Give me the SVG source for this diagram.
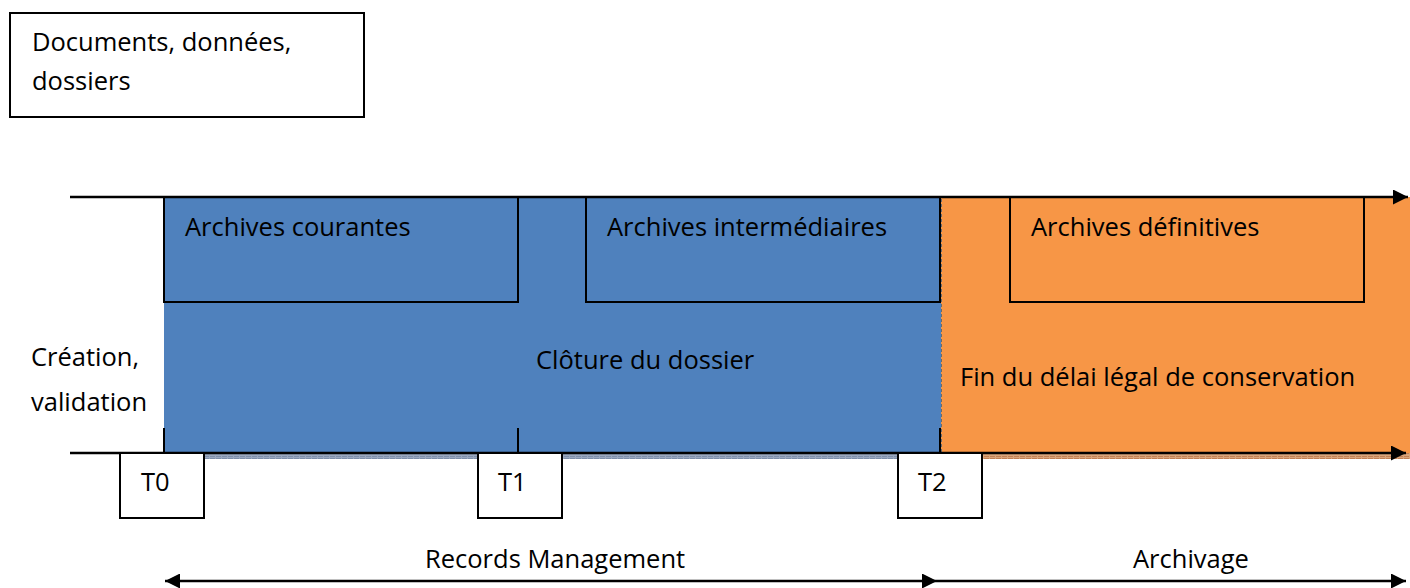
<svg xmlns="http://www.w3.org/2000/svg" width="1410" height="588" viewBox="0 0 1410 588">
  <style>
    .t { font-family: "Open Sans", "Liberation Sans", sans-serif; font-size: 25.5px; fill: #000; }
    .box { fill: none; stroke: #000; stroke-width: 2; }
    .wbox { fill: #fff; stroke: #000; stroke-width: 2; }
    .ln { stroke: #000; stroke-width: 2.5; fill: none; }
    .tick { stroke: #000; stroke-width: 2; }
  </style>
  <defs>
    <marker id="ah" viewBox="0 0 10 10" refX="10" refY="5" markerWidth="15" markerHeight="15" markerUnits="userSpaceOnUse" orient="auto-start-reverse">
      <path d="M0,0 L10,5 L0,10 Z" fill="#000"/>
    </marker>
    <pattern id="hatchBlue" width="6" height="5" patternUnits="userSpaceOnUse">
      <rect width="6" height="5" fill="#9aa8bf"/>
      <rect x="0" y="1" width="5" height="1" fill="#7e8faa"/>
      <rect x="0" y="3" width="5" height="1" fill="#7e8faa"/>
    </pattern>
    <pattern id="hatchOrange" width="6" height="5" patternUnits="userSpaceOnUse">
      <rect width="6" height="5" fill="#d9a57a"/>
      <rect x="0" y="1" width="5" height="1" fill="#c08055"/>
      <rect x="0" y="3" width="5" height="1" fill="#c08055"/>
    </pattern>
  </defs>

  <g id="documents">
    <rect class="wbox" x="10" y="13" width="354" height="104"/>
    <text class="t" x="32" y="51">Documents, données,</text>
    <text class="t" x="32" y="90">dossiers</text>
  </g>

  <g id="phases">
    <rect x="164" y="453" width="777" height="6" fill="url(#hatchBlue)"/>
    <rect x="941" y="453" width="469" height="6" fill="url(#hatchOrange)"/>
    <rect id="blue-zone" x="164" y="197" width="777" height="256" fill="#4f81bd"/>
    <rect id="orange-zone" x="941" y="197" width="469" height="256" fill="#f79646"/>
    <line x1="941.5" y1="199" x2="941.5" y2="453" stroke="#6b6b6b" stroke-width="1" stroke-dasharray="3,2"/>
  </g>

  <g id="archives-courantes">
    <rect class="box" x="164" y="197" width="354" height="105"/>
    <text class="t" x="185" y="236">Archives courantes</text>
  </g>
  <g id="archives-intermediaires">
    <rect class="box" x="586" y="197" width="354" height="105"/>
    <text class="t" x="607" y="236">Archives intermédiaires</text>
  </g>
  <g id="archives-definitives">
    <rect class="box" x="1010" y="197" width="354" height="105"/>
    <text class="t" x="1031" y="236">Archives définitives</text>
  </g>

  <g id="labels">
    <text class="t" x="31" y="366">Création,</text>
    <text class="t" x="31" y="411">validation</text>
    <text class="t" x="536" y="369">Clôture du dossier</text>
    <text class="t" x="960" y="386">Fin du délai légal de conservation</text>
  </g>

  <g id="connectors">
    <line class="ln" x1="70" y1="197" x2="1408" y2="197" marker-end="url(#ah)"/>
    <line class="ln" x1="70" y1="453" x2="1406" y2="453" marker-end="url(#ah)"/>
    <line class="tick" x1="164" y1="428" x2="164" y2="453"/>
    <line class="tick" x1="518" y1="428" x2="518" y2="453"/>
    <line class="tick" x1="940" y1="428" x2="940" y2="453"/>
    <line class="ln" x1="165" y1="581" x2="937" y2="581" marker-start="url(#ah)" marker-end="url(#ah)"/>
    <line class="ln" x1="937" y1="581" x2="1406" y2="581" marker-end="url(#ah)"/>
  </g>

  <g id="t0">
    <rect class="wbox" x="120" y="453" width="84" height="65"/>
    <text class="t" x="141" y="491">T0</text>
  </g>
  <g id="t1">
    <rect class="wbox" x="478" y="453" width="84" height="65"/>
    <text class="t" x="498" y="491">T1</text>
  </g>
  <g id="t2">
    <rect class="wbox" x="898" y="453" width="84" height="65"/>
    <text class="t" x="918" y="491">T2</text>
  </g>

  <g id="spans">
    <text class="t" x="425" y="568">Records Management</text>
    <text class="t" x="1133" y="568">Archivage</text>
  </g>
</svg>
